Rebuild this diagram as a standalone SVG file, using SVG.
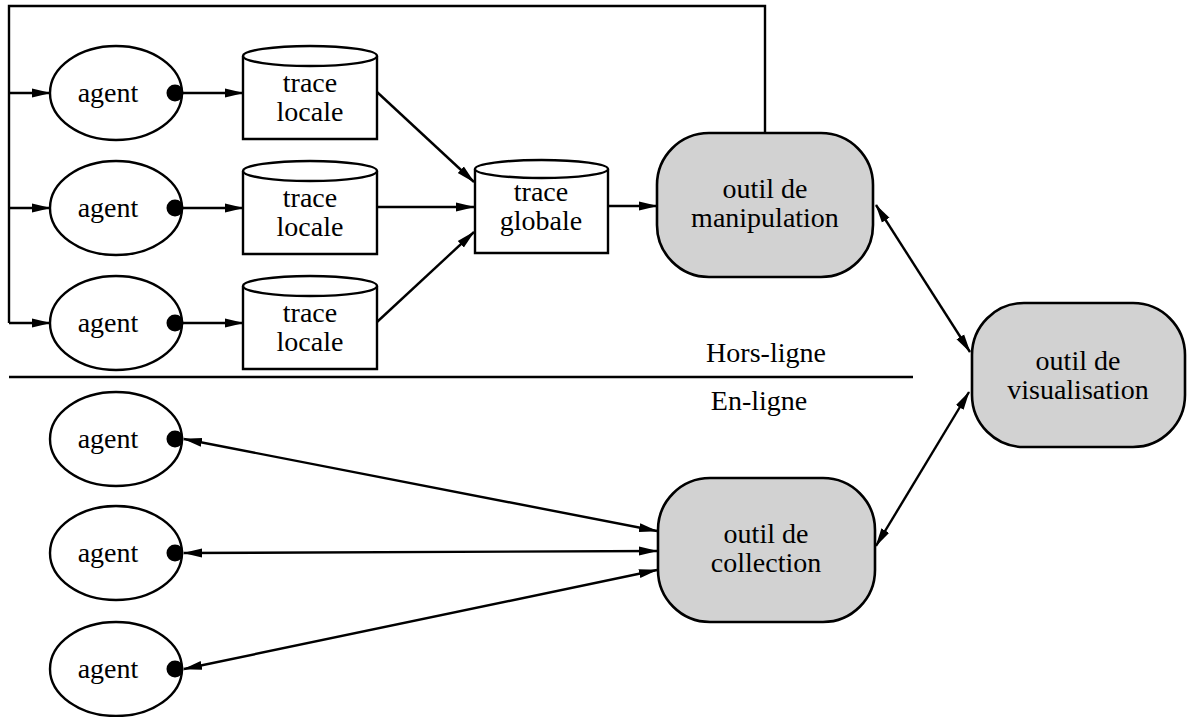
<svg xmlns="http://www.w3.org/2000/svg" width="1189" height="717" viewBox="0 0 1189 717">
<style>
  .s { fill: none; stroke: #000; stroke-width: 2.4; }
  .n { fill: #fff; stroke: #000; stroke-width: 2.4; }
  .g { fill: #d2d2d2; stroke: #000; stroke-width: 2.6; }
  .t { font-family: "Liberation Serif", "DejaVu Serif", serif; font-size: 28px; fill: #000; text-anchor: middle; }
  .a { fill: none; stroke: #000; stroke-width: 2.4; marker-end: url(#ah); }
  .d { fill: none; stroke: #000; stroke-width: 2.4; marker-end: url(#ah); marker-start: url(#ah); }
</style>
<defs>
  <marker id="ah" markerUnits="userSpaceOnUse" markerWidth="19" markerHeight="10" refX="18" refY="5" orient="auto-start-reverse" viewBox="0 0 19 10">
    <path d="M0,0.5 L19,5 L0,9.5 z" fill="#000"/>
  </marker>
</defs>
<rect width="1189" height="717" fill="#fff"/>

<g id="connectors">
  <path class="s" d="M765,133 L765,6 L9,6 L9,323"/>
  <line class="a" x1="9" y1="93" x2="50" y2="93"/>
  <line class="a" x1="9" y1="208" x2="50" y2="208"/>
  <line class="a" x1="9" y1="323" x2="50" y2="323"/>
  <line class="a" x1="183" y1="93" x2="243" y2="93"/>
  <line class="a" x1="183" y1="208" x2="243" y2="208"/>
  <line class="a" x1="183" y1="323" x2="243" y2="323"/>
  <line class="a" x1="377" y1="92" x2="474" y2="182"/>
  <line class="a" x1="377" y1="207" x2="474" y2="207"/>
  <line class="a" x1="377" y1="322" x2="474" y2="232"/>
  <line class="a" x1="608" y1="206" x2="657" y2="206"/>
  <line class="d" x1="876" y1="205" x2="970" y2="352"/>
  <line class="d" x1="876" y1="546" x2="969" y2="392"/>
  <line class="d" x1="184" y1="439" x2="657" y2="531"/>
  <line class="d" x1="184" y1="553" x2="657" y2="551"/>
  <line class="d" x1="184" y1="669" x2="657" y2="570"/>
  <line class="s" x1="9" y1="377" x2="913" y2="377"/>
</g>

<g id="agent1">
  <ellipse class="n" cx="116" cy="93" rx="66" ry="47"/>
  <text class="t" x="108" y="102">agent</text>
  <circle cx="175" cy="93" r="8.5" fill="#000"/>
</g>
<g id="agent2">
  <ellipse class="n" cx="116" cy="208" rx="66" ry="47"/>
  <text class="t" x="108" y="217">agent</text>
  <circle cx="175" cy="208" r="8.5" fill="#000"/>
</g>
<g id="agent3">
  <ellipse class="n" cx="116" cy="323" rx="66" ry="47"/>
  <text class="t" x="108" y="332">agent</text>
  <circle cx="175" cy="323" r="8.5" fill="#000"/>
</g>

<g id="trace-locale1">
  <path class="n" d="M243,56 L243,139 L377,139 L377,56"/>
  <ellipse class="n" cx="310" cy="56" rx="67" ry="10"/>
  <text class="t" x="310" y="92">trace</text>
  <text class="t" x="310" y="121">locale</text>
</g>
<g id="trace-locale2">
  <path class="n" d="M243,171 L243,254 L377,254 L377,171"/>
  <ellipse class="n" cx="310" cy="171" rx="67" ry="10"/>
  <text class="t" x="310" y="207">trace</text>
  <text class="t" x="310" y="236">locale</text>
</g>
<g id="trace-locale3">
  <path class="n" d="M243,286 L243,369 L377,369 L377,286"/>
  <ellipse class="n" cx="310" cy="286" rx="67" ry="10"/>
  <text class="t" x="310" y="322">trace</text>
  <text class="t" x="310" y="351">locale</text>
</g>

<g id="trace-globale">
  <path class="n" d="M475,169 L475,253 L608,253 L608,169"/>
  <ellipse class="n" cx="541.5" cy="169" rx="66.5" ry="9"/>
  <text class="t" x="541" y="201">trace</text>
  <text class="t" x="541" y="230">globale</text>
</g>

<g id="outil-manipulation">
  <rect class="g" x="657" y="133" width="216" height="144" rx="52" ry="52"/>
  <text class="t" x="765" y="198">outil de</text>
  <text class="t" x="765" y="227">manipulation</text>
</g>

<g id="outil-visualisation">
  <rect class="g" x="972" y="303" width="213" height="144" rx="52" ry="52"/>
  <text class="t" x="1078" y="370">outil de</text>
  <text class="t" x="1078" y="399">visualisation</text>
</g>

<g id="outil-collection">
  <rect class="g" x="658" y="478" width="217" height="144" rx="52" ry="52"/>
  <text class="t" x="766" y="543">outil de</text>
  <text class="t" x="766" y="572">collection</text>
</g>

<g id="labels">
  <text class="t" x="766" y="362">Hors-ligne</text>
  <text class="t" x="759" y="410">En-ligne</text>
</g>

<g id="agent4">
  <ellipse class="n" cx="116" cy="439" rx="66" ry="47"/>
  <text class="t" x="108" y="448">agent</text>
  <circle cx="175" cy="439" r="8.5" fill="#000"/>
</g>
<g id="agent5">
  <ellipse class="n" cx="116" cy="553" rx="66" ry="47"/>
  <text class="t" x="108" y="562">agent</text>
  <circle cx="175" cy="553" r="8.5" fill="#000"/>
</g>
<g id="agent6">
  <ellipse class="n" cx="116" cy="669" rx="66" ry="47"/>
  <text class="t" x="108" y="678">agent</text>
  <circle cx="175" cy="669" r="8.5" fill="#000"/>
</g>
</svg>
